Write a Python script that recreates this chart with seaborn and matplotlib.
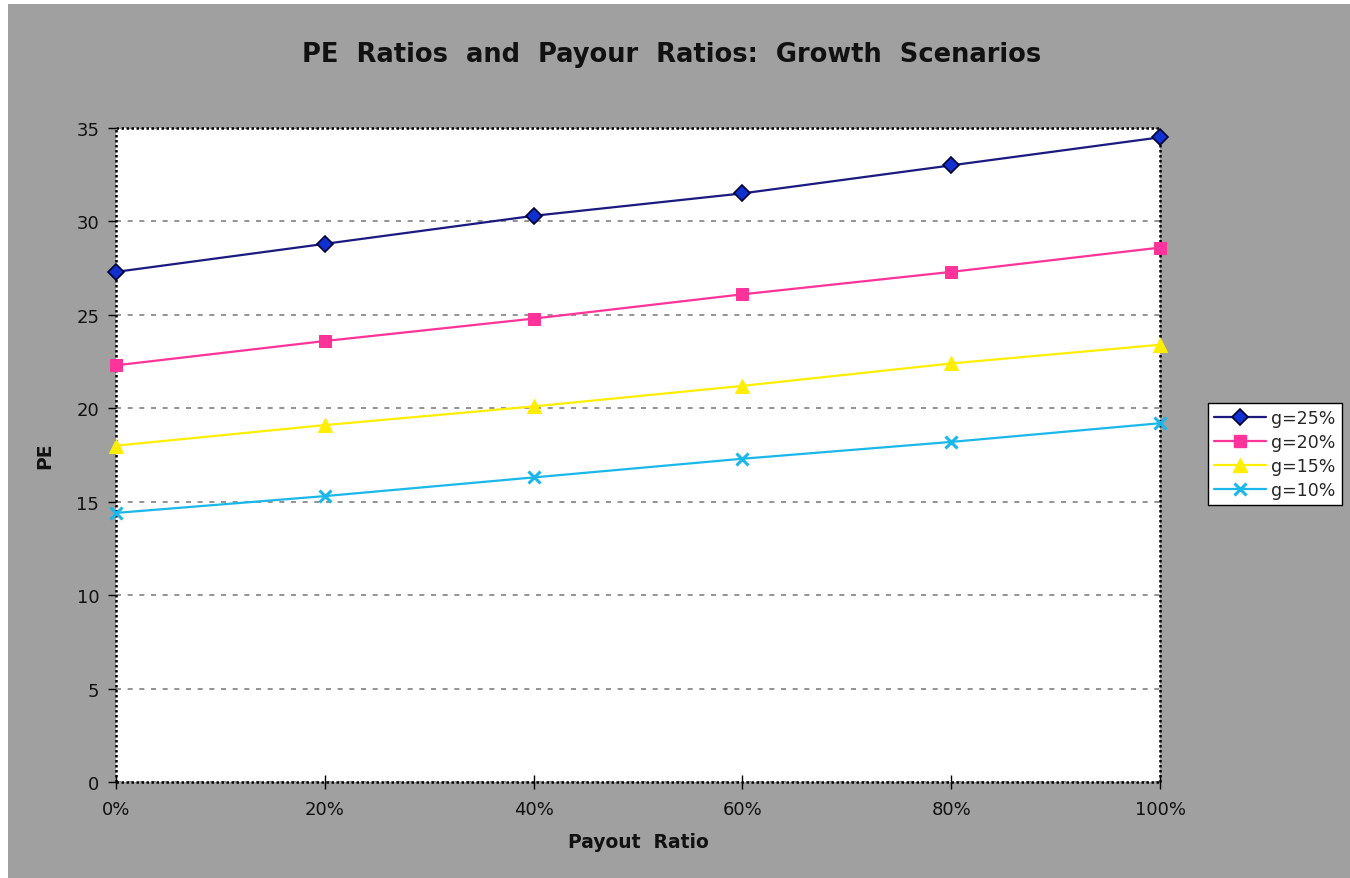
import matplotlib
matplotlib.use("Agg")
import matplotlib.pyplot as plt
import matplotlib.patches as mpatches
from matplotlib.ticker import FuncFormatter, MultipleLocator
import numpy as np
import pandas as pd
import seaborn as sns

# Payout ratio (x) and PE ratio for each growth scenario
payout = [0.0, 0.2, 0.4, 0.6, 0.8, 1.0]
pe_g25 = [27.3, 28.8, 30.3, 31.5, 33.0, 34.5]
pe_g20 = [22.3, 23.6, 24.8, 26.1, 27.3, 28.6]
pe_g15 = [18.0, 19.1, 20.1, 21.2, 22.4, 23.4]
pe_g10 = [14.4, 15.3, 16.3, 17.3, 18.2, 19.2]
scenarios = ["g=25%", "g=20%", "g=15%", "g=10%"]

df = pd.concat([
    pd.DataFrame({"Payout Ratio": payout, "PE": vals, "Scenario": name})
    for name, vals in zip(scenarios, [pe_g25, pe_g20, pe_g15, pe_g10])
], ignore_index=True)

sns.set_theme(style="white")
plt.rcParams["font.family"] = ["DejaVu Sans"]

fig = plt.figure(figsize=(13.5, 8.79), dpi=100, facecolor="white")
# grey chart area
fig.patches.append(mpatches.Rectangle((8 / 1350, 0), 1, 1 - 5 / 879,
                                      transform=fig.transFigure,
                                      facecolor="#a0a0a0", edgecolor="none",
                                      zorder=-10))

ax = fig.add_axes([116 / 1350, 1 - 783 / 879, (1160 - 116) / 1350, (783 - 129) / 879])
ax.set_facecolor("white")

palette = {"g=25%": "#1a1a80", "g=20%": "#ff3399", "g=15%": "#ffee00", "g=10%": "#1ab8ea"}
markers = {"g=25%": "D", "g=20%": "s", "g=15%": "^", "g=10%": "x"}
marker_kw = {
    "g=25%": dict(markerfacecolor="#1030d0", markeredgecolor="#000030",
                  markersize=8, markeredgewidth=1.2),
    "g=20%": dict(markerfacecolor="#ff3399", markeredgecolor="#ff3399", markersize=9),
    "g=15%": dict(markerfacecolor="#ffee00", markeredgecolor="#ffee00", markersize=10),
    "g=10%": dict(markeredgecolor="#1ab8ea", markersize=9, markeredgewidth=2.2),
}

for name in scenarios:
    sub = df[df["Scenario"] == name]
    sns.lineplot(data=sub, x="Payout Ratio", y="PE", color=palette[name],
                 marker=markers[name], linewidth=1.6, ax=ax, legend=False,
                 clip_on=False, zorder=3, **marker_kw[name])

ax.set_xlim(0, 1)
ax.set_ylim(0, 35)
ax.yaxis.set_major_locator(MultipleLocator(5))
ax.xaxis.set_major_locator(MultipleLocator(0.2))
ax.xaxis.set_major_formatter(FuncFormatter(lambda v, p: f"{v * 100:.0f}%"))

ax.grid(axis="y", color="#808080", linestyle=(0, (3, 4)), linewidth=1.2)
ax.grid(axis="x", visible=False)
# dotted plot-area frame
for s in ax.spines.values():
    s.set_visible(True)
    s.set_color("black")
    s.set_linestyle((0, (1, 1)))
    s.set_linewidth(1.8)
    s.set_capstyle("butt")

ax.tick_params(axis="y", direction="out", length=6, width=1, color="black",
               labelsize=13, labelcolor="#111111", pad=6, left=True)
ax.tick_params(axis="x", direction="inout", length=10, width=1, color="black",
               labelsize=13, labelcolor="#111111", pad=8, bottom=True)

ax.set_xlabel("Payout  Ratio", fontsize=13.5, fontweight="bold", color="#111111", labelpad=10)
ax.set_ylabel("PE", fontsize=13.5, fontweight="bold", color="#111111", labelpad=16)

fig.text(672 / 1350, 1 - 55 / 879, "PE  Ratios  and  Payour  Ratios:  Growth  Scenarios",
         ha="center", va="center", fontsize=18.5, fontweight="bold", color="#111111")

handles = []
for name in scenarios:
    handles.append(plt.Line2D([], [], color=palette[name], marker=markers[name],
                              linewidth=1.6, **marker_kw[name]))
leg = fig.legend(handles, scenarios, loc="upper left",
                 bbox_to_anchor=(1208 / 1350, 1 - 404 / 879),
                 frameon=True, fancybox=False, edgecolor="black", facecolor="white",
                 framealpha=1.0, fontsize=12.5, handlelength=3.0, handletextpad=0.3,
                 labelspacing=0.35, borderpad=0.35, borderaxespad=0)
leg.get_frame().set_linewidth(1.0)

fig.savefig("out.png", dpi=100, facecolor=fig.get_facecolor())
